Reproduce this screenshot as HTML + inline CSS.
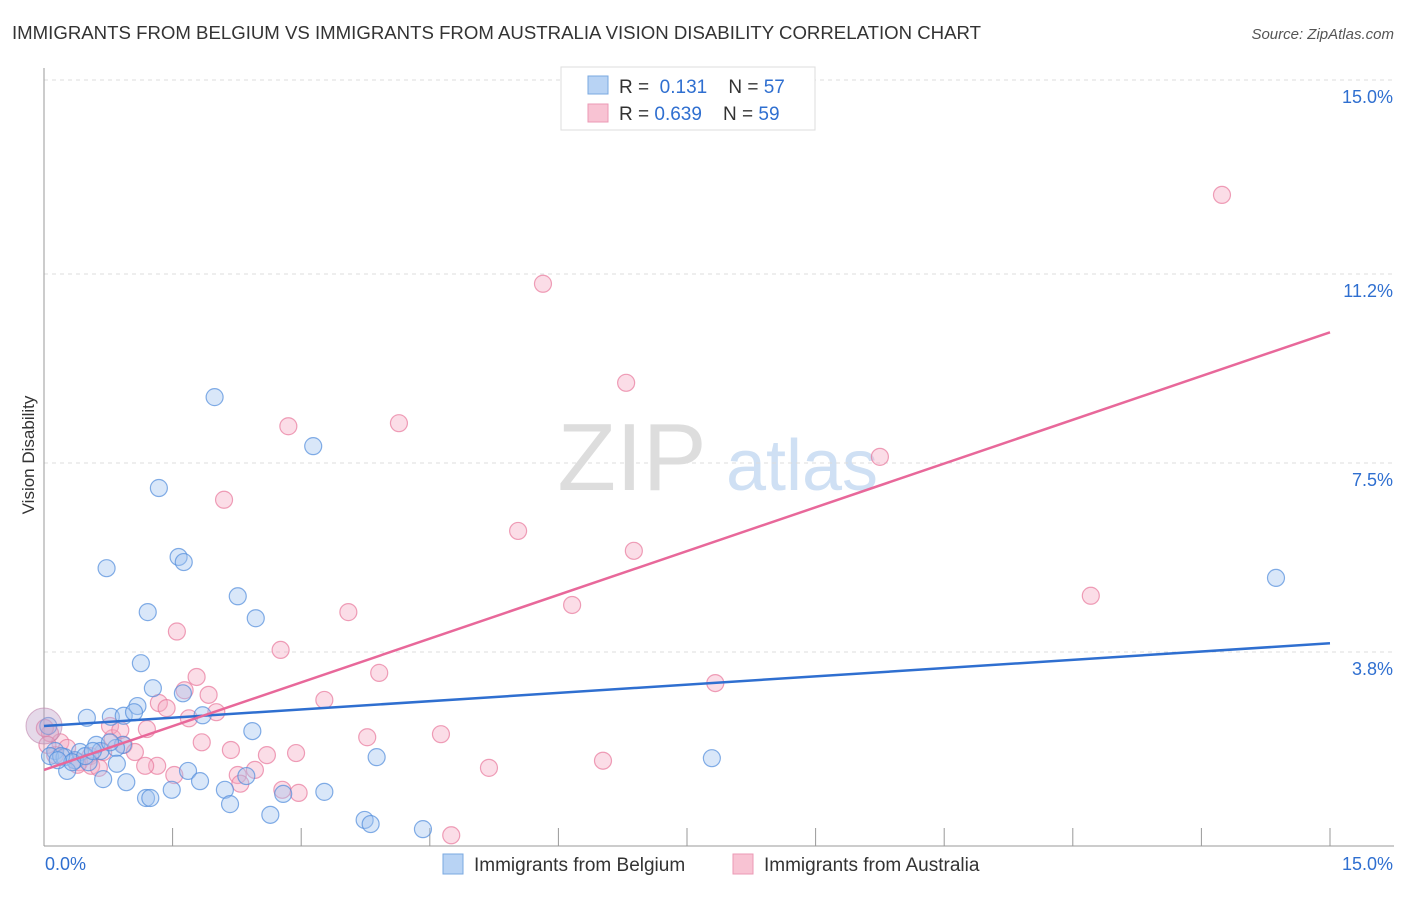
<!DOCTYPE html>
<html><head><meta charset="utf-8"><style>
body{margin:0;background:#fff;font-family:"Liberation Sans",sans-serif;}
svg text{font-family:"Liberation Sans",sans-serif;}
</style></head><body>
<svg id="chart" width="1406" height="892" xmlns="http://www.w3.org/2000/svg">
<text x="12" y="39" font-size="18" fill="#333" textLength="969" lengthAdjust="spacingAndGlyphs">IMMIGRANTS FROM BELGIUM VS IMMIGRANTS FROM AUSTRALIA VISION DISABILITY CORRELATION CHART</text>
<text x="1394" y="39" font-size="15" fill="#555" text-anchor="end" font-style="italic">Source: ZipAtlas.com</text>
<text transform="translate(34,455) rotate(-90)" font-size="17" fill="#333" text-anchor="middle">Vision Disability</text>
<g>
<text x="632" y="490" font-size="96" fill="#ddd" text-anchor="middle" font-family="Liberation Serif">ZIP</text>
<text x="802" y="490" font-size="72" fill="#cfe0f4" text-anchor="middle">atlas</text>
</g>
<g id="grid"></g><g id="pts"></g><g id="lines"></g>
<g>
<rect x="561" y="67" width="254" height="63" fill="#fff" stroke="#ddd"/>
<rect x="588" y="76" width="20" height="18" fill="#b8d3f4" stroke="#7aa8e0"/>
<rect x="588" y="104" width="20" height="18" fill="#f8c3d3" stroke="#eb9ab4"/>
<text x="619" y="93" font-size="19" fill="#333">R = <tspan fill="#2f6fd0">&#160;0.131</tspan>&#160;&#160;&#160;&#160;N = <tspan fill="#2f6fd0">57</tspan></text>
<text x="619" y="120" font-size="19" fill="#333">R = <tspan fill="#2f6fd0">0.639</tspan>&#160;&#160;&#160;&#160;N = <tspan fill="#2f6fd0">59</tspan></text>
</g>
<g>
<rect x="443" y="854" width="20" height="20" fill="#b8d3f4" stroke="#7aa8e0"/>
<text x="474" y="871" font-size="19" fill="#333">Immigrants from Belgium</text>
<rect x="733" y="854" width="20" height="20" fill="#f8c3d3" stroke="#eb9ab4"/>
<text x="764" y="871" font-size="19" fill="#333">Immigrants from Australia</text>
</g>
</svg>
<script>
const yTicks=[3.8,7.5,11.2,15.0];
const yTickLabels=["3.8%","7.5%","11.2%","15.0%"];
const xTickCount=10;
const blueX=[1.99,3.14,1.34,0.73,1.57,1.63,1.21,2.26,2.47,1.13,1.27,1.62,1.09,0.50,0.78,0.93,1.05,1.85,2.43,0.61,0.92,0.66,0.84,0.42,0.13,0.07,0.24,0.36,0.52,0.27,0.85,0.96,0.69,1.68,1.82,2.36,3.88,7.79,14.37,1.49,1.19,1.24,2.11,2.17,2.79,3.27,2.64,3.74,3.81,4.42,0.20,0.33,0.05,0.16,0.48,0.57,0.77];
const blueY=[8.79,7.83,7.01,5.44,5.66,5.56,4.58,4.89,4.46,3.58,3.09,2.99,2.74,2.51,2.53,2.55,2.62,2.56,2.25,1.98,1.98,1.86,1.92,1.84,1.86,1.76,1.74,1.68,1.64,1.47,1.61,1.25,1.31,1.47,1.27,1.37,1.74,1.72,5.25,1.10,0.94,0.94,1.10,0.82,1.02,1.06,0.61,0.51,0.43,0.33,1.76,1.64,2.35,1.68,1.76,1.86,2.03];
const pinkX=[13.74,5.82,6.79,4.14,2.85,9.75,2.10,5.53,6.88,6.16,12.21,3.55,1.55,2.76,1.78,3.91,1.64,1.92,3.27,1.34,1.43,7.83,1.69,2.01,1.20,4.63,3.77,1.84,0.93,2.18,2.60,2.94,1.06,0.80,0.69,0.54,0.41,0.55,0.64,0.39,1.32,1.18,1.52,2.26,2.46,2.29,5.19,6.52,2.78,2.97,4.75,0.19,0.07,0.27,0.13,0.77,0.89,0.01,0.04];
const pinkY=[12.75,11.01,9.07,8.28,8.22,7.62,6.78,6.17,5.78,4.72,4.90,4.58,4.20,3.84,3.31,3.39,3.05,2.96,2.86,2.80,2.70,3.19,2.50,2.62,2.29,2.19,2.13,2.03,1.98,1.88,1.78,1.82,1.84,2.11,1.84,1.76,1.64,1.57,1.53,1.59,1.57,1.57,1.39,1.39,1.49,1.22,1.53,1.67,1.10,1.04,0.21,2.03,2.21,1.92,1.78,2.35,2.27,2.31,1.98];
const blueLine=[2.35,3.97];
const pinkLine=[1.49,10.06];
const X=v=>44+v/15*1286, Y=v=>846-v/15*766;
const NS="http://www.w3.org/2000/svg";
function mk(p,t,a){const e=document.createElementNS(NS,t);for(const k in a)e.setAttribute(k,a[k]);p.appendChild(e);return e;}
const g=document.getElementById('grid');
yTicks.forEach((v,i)=>{
 const l=mk(g,'line',{x1:44,x2:1394,y1:Y(v),y2:Y(v),stroke:'#ddd','stroke-dasharray':'4,4'});
 
 
 const t=mk(g,'text',{x:1393,y:Y(v)+23,'font-size':18,fill:'#2f6fd0','text-anchor':'end'});
 t.textContent=yTickLabels[i];
 
 
});
const ax=mk(g,'line',{x1:44,x2:44,y1:68,y2:846,stroke:'#999'});


const bx=mk(g,'line',{x1:44,x2:1394,y1:846,y2:846,stroke:'#999'});


for(let i=1;i<=xTickCount;i++){const v=15*i/xTickCount;const t=mk(g,'line',{x1:X(v),x2:X(v),y1:828,y2:846,stroke:'#999'});
 
 }
const xl=mk(g,'text',{x:45,y:870,'font-size':18,fill:'#2f6fd0'});xl.textContent='0.0%';


const xr=mk(g,'text',{x:1393,y:870,'font-size':18,fill:'#2f6fd0','text-anchor':'end'});xr.textContent='15.0%';


const p=document.getElementById('pts');
pinkX.forEach((x,i)=>{const c=mk(p,'circle',{cx:X(x),cy:Y(pinkY[i]),r:8.5,fill:'rgba(246,170,195,0.4)',stroke:'rgba(232,120,155,0.7)','stroke-width':1.2});
 
 });
blueX.forEach((x,i)=>{const c=mk(p,'circle',{cx:X(x),cy:Y(blueY[i]),r:8.5,fill:'rgba(160,195,240,0.4)',stroke:'rgba(80,140,220,0.7)','stroke-width':1.2});
 
 });
const big=mk(p,'circle',{cx:X(0),cy:Y(2.35),r:18,fill:'rgba(190,160,200,0.4)',stroke:'rgba(190,130,170,0.6)'});


const L=document.getElementById('lines');
const bl=mk(L,'line',{x1:X(0),y1:Y(blueLine[0]),x2:X(15),y2:Y(blueLine[1]),stroke:'#2f6fd0','stroke-width':2.5});


const pl=mk(L,'line',{x1:X(0),y1:Y(pinkLine[0]),x2:X(15),y2:Y(pinkLine[1]),stroke:'#e8689a','stroke-width':2.5});


</script>
</body></html>
